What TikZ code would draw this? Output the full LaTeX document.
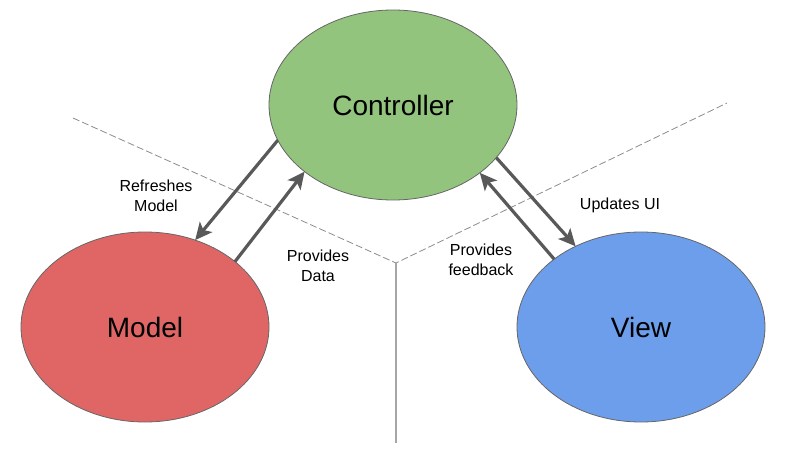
\documentclass[tikz,border=0pt]{standalone}
\usepackage{fontspec}
\setmainfont{Liberation Sans}
\usetikzlibrary{shapes.geometric,arrows.meta}
\definecolor{cgreen}{HTML}{93C47D}
\definecolor{cred}{HTML}{E06666}
\definecolor{cblue}{HTML}{6D9EEB}
\definecolor{arrgray}{HTML}{595959}
\tikzset{
  blob/.style={ellipse, draw=black!60, line width=0.8pt, minimum width=248pt, minimum height=190pt, inner sep=0pt, outer sep=0pt, font=\fontsize{28}{32}\selectfont},
  arr/.style={draw=arrgray, line width=3.2pt, -{Stealth[length=17pt,width=16pt,inset=4pt]}},
  lbl/.style={align=center, font=\fontsize{16}{19.5}\selectfont, inner sep=0pt},
  divider/.style={draw=black!45, line width=0.8pt, dash pattern=on 7pt off 3pt},
  solidline/.style={draw=black!35, line width=1.5pt}
}
\begin{document}
\begin{tikzpicture}[x=1pt,y=-1pt]
\useasboundingbox (0,0) rectangle (788,455);
% dividers
\coordinate (mid) at (396,263);
\coordinate (dl) at (73,118);
\coordinate (dr) at (727,103);
\coordinate (db) at (396,443);
\draw[divider] (dl) -- (mid) -- (dr);
\draw[solidline] (mid) -- (db);
% nodes
\node[blob, fill=cgreen] (C) at (393,105) {Controller};
\node[blob, fill=cred] (M) at (145,327) {Model};
\node[blob, fill=cblue] (V) at (641,327) {View};
% arrows
\draw[arr] (C.197.5) -- (M.60);
\draw[arr] (M.36.9) -- (C.217.3);
\draw[arr] (C.333.6) -- (V.129.3);
\draw[arr] (V.142.4) -- (C.322.6);
% labels
\node[lbl] (l1) at (156,196) {Refreshes\\Model};
\node[lbl] (l2) at (318,266) {Provides\\Data};
\node[lbl] (l3) at (620,205) {Updates UI};
\node[lbl] (l4) at (481,260) {Provides\\feedback};
\end{tikzpicture}
\end{document}
